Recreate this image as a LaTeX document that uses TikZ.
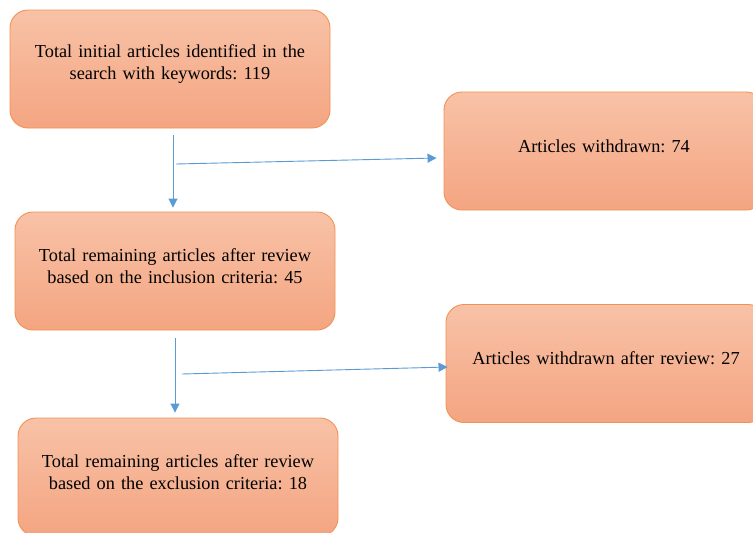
\documentclass[tikz,border=0pt]{standalone}
\usepackage{fontspec}
\setmainfont{Liberation Serif}
\usepackage{xcolor}
\usetikzlibrary{arrows.meta, positioning, calc}
\definecolor{boxtop}{RGB}{248,194,167}
\definecolor{boxbot}{RGB}{244,165,129}
\definecolor{boxline}{RGB}{241,146,84}
\definecolor{arrblue}{RGB}{91,155,213}
\frenchspacing
\begin{document}
\begin{tikzpicture}[x=1pt, y=-1pt,
	font=\fontsize{18.3}{22}\selectfont,
	stagebox/.style={draw=boxline, line width=0.9pt, rounded corners=18pt,
		top color=boxtop, bottom color=boxbot,
		minimum width=320pt, minimum height=118pt, inner sep=0pt,
		text width=310pt, align=center,
		execute at end node={\endgraf\vspace{10pt}}},
	flow/.style={draw=arrblue, line width=0.9pt, -{Triangle[length=9pt, width=9pt]}}]
			\clip (0,0) rectangle (753,533);
			\fill[white] (0,0) rectangle (753,533);
			\node[stagebox] (init) at (170,69) {Total initial articles identified in the\\search with keywords: 119};
			\node[stagebox] (wd1) at (604,151) {Articles withdrawn: 74};
			\node[stagebox] (rem1) at (175,271) {Total remaining articles after review\\based on the inclusion criteria: 45};
			\node[stagebox] (wd2) at (606,363.5) {Articles withdrawn after review: 27};
			\node[stagebox] (rem2) at (178,477) {Total remaining articles after review\\based on the exclusion criteria: 18};
			\coordinate (v1) at (173,135);
			\coordinate (h1) at (176,164);
			\coordinate (v2) at (175,338);
			\coordinate (h2) at (182,374);
			\draw[flow, shorten >=4pt] (v1) -- (v1 |- rem1.north);
			\draw[flow] (h1) -- ([xshift=-7pt, yshift=-7pt]wd1.west);
			\draw[flow, shorten >=5pt] (v2) -- (v2 |- rem2.north);
			\draw[flow] (h2) -- ([xshift=2pt, yshift=-3.5pt]wd2.west);
\end{tikzpicture}
\end{document}
